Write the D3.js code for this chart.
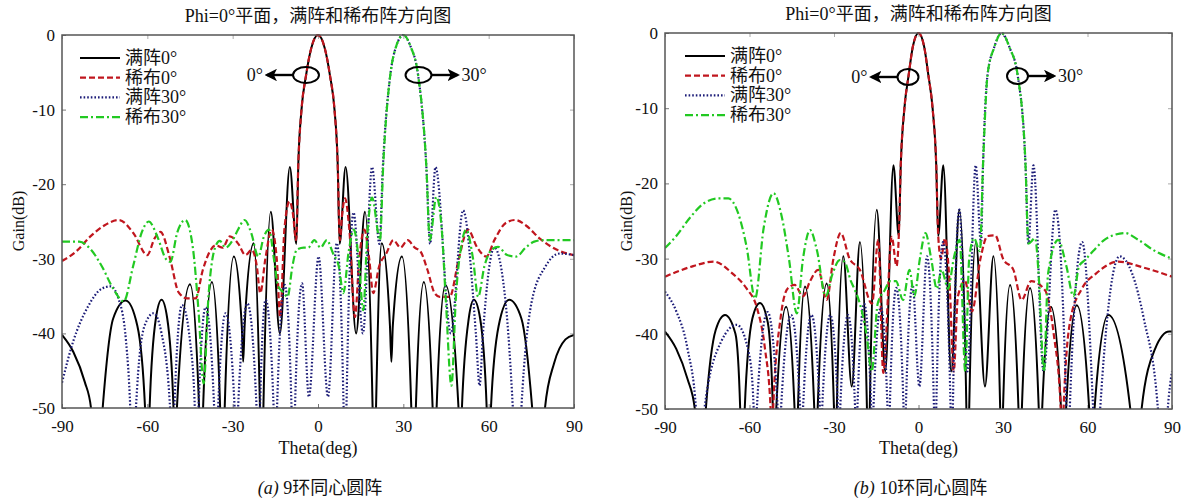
<!DOCTYPE html>
<html>
<head>
<meta charset="utf-8">
<script src="https://cdn.jsdelivr.net/npm/d3@7"></script>
<style>
body { margin: 0; background: #fff; }
text { font-family: "Liberation Serif", "Noto Sans CJK SC", serif; fill: #111; }
</style>
</head>
<body>
<svg id="chart" width="1185" height="503"></svg>
<script>
// ---- data: [theta(deg), gain(dB)] ----
var seriesNames = ["满阵0°", "稀布0°", "满阵30°", "稀布30°"];
var xTicks = [-90, -60, -30, 0, 30, 60, 90];
var yTicks = [0, -10, -20, -30, -40, -50];
var titleText = "Phi=0°平面，满阵和稀布阵方向图";
var captions = [["(a)", " 9环同心圆阵"], ["(b)", " 10环同心圆阵"]];

// (a) 9 rings
var fullA0 = [[-90,-40.2],[-86,-42.5],[-82,-46.5],[-79.8,-50],[-77.8,-62],[-75.7,-50],[-72,-38],[-67.6,-35.6],[-63.5,-39],[-60.8,-50],[-60,-62],[-59.2,-50],[-57,-38],[-55,-35.5],[-53,-38],[-50.8,-50],[-50.2,-62],[-49.6,-50],[-45,-33.4],[-41.8,-50],[-41.1,-62],[-40.4,-50],[-37.3,-33.1],[-34.4,-50],[-33.6,-62],[-32.8,-50],[-29.6,-29.7],[-26.8,-39],[-26.3,-43.8],[-25.8,-39],[-22.6,-27.9],[-20.4,-50],[-19.8,-62],[-19.2,-50],[-16.6,-23.7],[-13.4,-40],[-9.9,-17.7],[-7.6,-28],[-6.9,-17],[-5.8,-10],[-4.2,-5.4],[-2.4,-1.8],[0,0],[2.4,-1.8],[4.2,-5.4],[5.8,-10],[6.9,-17],[7.6,-28],[9.7,-17.7],[13.4,-40],[16.5,-23.7],[19.2,-50],[19.8,-62],[20.4,-50],[22.4,-27.9],[25.3,-39],[25.8,-43.8],[26.3,-39],[29.5,-29.7],[32.8,-50],[33.6,-62],[34.4,-50],[37.2,-33.1],[40.3,-50],[41,-62],[41.7,-50],[44.8,-33.5],[49.4,-50],[50,-62],[50.6,-50],[53,-38],[54.8,-35.5],[57,-38],[59.3,-50],[60,-62],[60.8,-50],[63.5,-39],[67.2,-35.5],[71.5,-38],[75.3,-50],[77.5,-62],[79.8,-50],[83,-44],[87,-40.8],[90,-40.2]];
var sparseA0 = [[-90,-30.3],[-85,-29],[-80,-27],[-75,-25.5],[-70,-24.8],[-65,-26.5],[-60,-29.5],[-57.5,-27.3],[-55.4,-26.4],[-52,-30],[-49,-34.5],[-46,-35.3],[-43,-35.3],[-40.5,-31.5],[-38,-29],[-36,-28.2],[-33.5,-28.5],[-31,-27],[-28,-28],[-25.5,-29.5],[-23.3,-28.8],[-21.5,-31],[-20.3,-34.6],[-18.5,-30],[-16.3,-26.1],[-14.5,-30],[-13.3,-37.8],[-11.8,-26],[-10,-22.3],[-8.8,-24],[-7.7,-27.5],[-6.9,-17],[-5.8,-10],[-4.2,-5.4],[-2.4,-1.8],[0,0],[2.4,-1.8],[4.2,-5.4],[5.8,-10],[6.9,-17],[7.7,-27.5],[8.5,-24],[9.5,-21.9],[11,-26],[13,-37.8],[14.5,-30],[16.3,-26.1],[18,-30],[19.4,-34.6],[21.5,-31],[24,-29.3],[26.5,-27.5],[29,-28.5],[31.5,-27.5],[34,-28.5],[36,-29],[38.5,-31.5],[41,-34.6],[42.8,-35.1],[46.3,-35.1],[49.5,-30],[52.7,-26.1],[56,-28.5],[59.2,-29.7],[62,-27.5],[66,-25.2],[69.3,-24.8],[73,-25.5],[78,-27.3],[84,-28.8],[90,-29.5]];
var fullA30 = [[-90,-46.6],[-86,-41],[-81,-36.5],[-76,-34],[-72.9,-33.7],[-70,-35.5],[-67.5,-41],[-66,-50],[-65,-62],[-64,-50],[-61,-39],[-57.8,-37.3],[-55,-40],[-52,-50],[-51.3,-62],[-50.5,-50],[-47.8,-36.2],[-45,-41],[-43.3,-50],[-42.7,-62],[-42,-50],[-39.5,-36.5],[-36.5,-50],[-35.8,-62],[-35.1,-50],[-32.5,-37.3],[-29.3,-50],[-28.7,-62],[-28.1,-50],[-24.8,-36],[-21.6,-50],[-21,-62],[-20.4,-50],[-18.4,-35.5],[-15.6,-50],[-15,-62],[-14.4,-50],[-11.7,-33.5],[-9.3,-50],[-8.7,-62],[-8.1,-50],[-5.6,-33.3],[-3.2,-48.5],[0.2,-29.7],[3.5,-48.5],[6.6,-27.9],[9,-50],[9.5,-62],[10,-50],[12.5,-23.8],[15.8,-40],[19,-17.7],[21.6,-28],[22.8,-17.7],[25.4,-5.4],[27.5,-1.5],[30,0],[32.5,-1.5],[35.2,-5.4],[38.1,-17.7],[39.4,-28],[41.3,-17.7],[46.7,-40],[51,-23.5],[55.5,-40],[56.8,-47],[58,-40],[62,-28.5],[66,-36],[68.5,-50],[70,-62],[71.5,-50],[75,-36],[80,-31],[85,-29.3],[90,-29.5]];
var sparseA30 = [[-90,-27.7],[-84,-27.7],[-80,-28.7],[-76,-31],[-72,-34],[-68.3,-35.7],[-65,-31],[-62,-26.5],[-59.5,-25],[-56.5,-27],[-53.5,-30],[-51.9,-30.4],[-49.5,-26.5],[-46.7,-24.8],[-44,-28.5],[-42,-37],[-40.2,-46.7],[-38.5,-35],[-36.1,-28.4],[-34.5,-27.6],[-32.5,-28.5],[-30,-27.5],[-28,-26],[-25.8,-24.8],[-23.5,-26.5],[-21,-29.7],[-19,-27],[-17.2,-26.1],[-15.5,-30],[-14,-33.7],[-12.2,-34.5],[-10.7,-35.1],[-9,-31],[-7.5,-28.8],[-5,-28.5],[-3.4,-28.5],[-1.3,-27.5],[0.9,-28.5],[3.1,-27.5],[5.3,-29.3],[7.3,-31],[8.9,-34.6],[10.8,-29],[12.6,-26.1],[14.3,-30],[15.9,-36.9],[17.3,-27],[19,-21.8],[21.8,-27.5],[22.9,-17.7],[25.4,-5.4],[27.5,-1.5],[30,0],[32.5,-1.5],[35.2,-5.4],[38.1,-17.7],[39.3,-27.5],[41.6,-21.7],[43.5,-26],[45,-36],[46.9,-47],[48.5,-35],[50.5,-28],[52.1,-26.1],[54.5,-30],[56.3,-35.1],[58.5,-31],[61,-28.8],[63.3,-28.4],[66.5,-29.5],[69.7,-29.7],[73,-28.5],[76,-27.7],[79,-27.5],[84,-27.5],[90,-27.5]];

// (b) 10 rings
var fullB0 = [[-90,-39.7],[-86,-42],[-82,-46],[-79.4,-50],[-77.5,-62],[-75.5,-50],[-72,-39.5],[-68.7,-37.5],[-65,-40],[-63.3,-50],[-62.5,-62],[-61.7,-50],[-59,-38],[-56.3,-35.9],[-53.5,-38.5],[-51.7,-50],[-51.1,-62],[-50.5,-50],[-47,-36.4],[-44,-50],[-43.4,-62],[-42.8,-50],[-40.3,-33.7],[-37,-50],[-36.4,-62],[-35.8,-50],[-32.6,-33.3],[-30,-50],[-29.5,-62],[-29,-50],[-26.7,-29.7],[-23.7,-47],[-20.8,-27.8],[-18.3,-50],[-17.8,-62],[-17.3,-50],[-14.8,-23.5],[-11.8,-45],[-8.9,-17.6],[-7,-27],[-6.3,-17.6],[-5,-10],[-3.5,-5.6],[-2,-1.8],[0,0],[2,-1.8],[3.5,-5.6],[5,-10],[6.3,-17.6],[7,-27],[8.8,-17.6],[11.6,-45],[14.5,-23.5],[17,-50],[17.5,-62],[18,-50],[20.4,-27.8],[23.6,-47],[26.6,-29.7],[29,-50],[29.5,-62],[30,-50],[32.5,-33.5],[35.5,-50],[36.1,-62],[36.7,-50],[39.6,-33.9],[42.7,-50],[43.3,-62],[43.9,-50],[47,-36.4],[50.6,-50],[51.3,-62],[52.4,-50],[56.2,-36.2],[60.6,-50],[61.5,-62],[62.5,-50],[67.4,-37.5],[75.2,-50],[77.2,-62],[79.2,-50],[84,-42],[89,-39.7],[90,-39.7]];
var sparseB0 = [[-90,-32.4],[-80,-31],[-72.8,-30.4],[-66,-32],[-61,-34],[-57.4,-36.5],[-54.5,-42],[-52.5,-50],[-52.1,-60],[-51.6,-50],[-49,-38],[-46.5,-34],[-44,-33.5],[-41,-35],[-38.5,-33],[-35.6,-31.5],[-32.6,-35.5],[-30.2,-30],[-27.6,-26.6],[-24.5,-30],[-20.8,-31.5],[-16.5,-36],[-14.3,-27.5],[-12.5,-45.2],[-9.5,-27.1],[-7.8,-31],[-7,-27],[-6.3,-17.6],[-5,-10],[-3.5,-5.6],[-2,-1.8],[0,0],[2,-1.8],[3.5,-5.6],[5,-10],[6.3,-17.6],[7,-27],[8,-30],[9.4,-27.3],[11,-33],[12.5,-45],[14,-35],[16.5,-33],[19,-37],[22,-30],[24.5,-27],[27.2,-26.9],[30,-30],[33.7,-31.5],[36.6,-35.5],[40,-33],[44.9,-34.2],[48,-40],[50.5,-50],[51,-60],[51.5,-50],[54,-38],[58,-34],[63,-32],[70.9,-30.4],[80,-31.2],[90,-32.4]];
var fullB30 = [[-90,-34.4],[-86,-37],[-82,-42],[-79,-50],[-77.6,-62],[-76,-50],[-70,-41],[-64.5,-38.8],[-60,-43],[-58.5,-50],[-58,-62],[-57.4,-50],[-53.6,-37.1],[-50,-50],[-49.4,-62],[-48.8,-50],[-45.2,-37.5],[-42,-50],[-41.5,-62],[-41,-50],[-38,-37.5],[-35,-50],[-34.6,-62],[-34.2,-50],[-31.3,-37.5],[-28.6,-50],[-28.2,-62],[-27.8,-50],[-25,-37.5],[-22.5,-50],[-22.1,-62],[-21.7,-50],[-19.3,-36],[-16.8,-50],[-16.4,-62],[-16,-50],[-13.4,-36.5],[-11,-50],[-10.6,-62],[-10.2,-50],[-7.9,-33.9],[-5.3,-50],[-4.9,-62],[-4.5,-50],[-2.1,-33.5],[0.3,-47],[3,-29.7],[5.5,-50],[5.9,-62],[6.3,-50],[8.7,-27.8],[11.4,-50],[11.8,-62],[12.2,-50],[14.5,-23.5],[17.4,-45],[20.3,-17.6],[22.2,-28],[22.9,-17.6],[24.5,-5.6],[26.8,-2],[29.5,0],[32.4,-2],[35.2,-5.6],[38,-17.6],[39,-28],[40.8,-17.6],[44.4,-45],[48.6,-23.5],[52.5,-50],[53.1,-62],[53.7,-50],[58.1,-27.8],[62,-50],[63.3,-62],[64.5,-50],[71.4,-29.7],[80,-38],[85,-50],[86.8,-62],[88.5,-50],[90,-45]];
var sparseB30 = [[-90,-28.6],[-86,-27],[-81,-24.5],[-76,-22.6],[-71,-22],[-67.5,-22],[-64,-24],[-61,-28.5],[-58,-35.3],[-55,-26],[-51.5,-21.3],[-48.5,-24.5],[-46,-30],[-43.2,-37.3],[-41,-30],[-38.5,-26.2],[-36,-29],[-33,-35],[-30.5,-32],[-28,-30.2],[-26.3,-30.4],[-24,-33],[-22.8,-34],[-20.9,-35.9],[-18.5,-40],[-16.6,-45],[-14.5,-36],[-12,-34.2],[-10,-33],[-8,-33],[-5.5,-35.5],[-3.2,-31.5],[-1.5,-35],[0.5,-30],[2.5,-26.6],[4.5,-30],[6.5,-34],[8.2,-31.5],[10.5,-34],[12.5,-30],[14.6,-27.5],[16.6,-45],[18,-30],[19.7,-27.3],[21.8,-29],[22.9,-17.6],[24.5,-5.6],[26.8,-2],[29.5,0],[32.4,-2],[35.2,-5.6],[38,-17.6],[39,-28],[41.4,-27.3],[42.8,-33],[44.5,-45],[46,-32],[49.6,-27.5],[52.5,-31],[55,-35],[57,-31],[59.1,-30.2],[62,-29],[66,-27.5],[70,-26.8],[73.3,-26.6],[78,-27.5],[84,-29],[90,-30]];

// ---- layout ----
var styles = [
  { color: "#000000", dash: null, width: 2 },
  { color: "#c0161e", dash: "6,3", width: 2.2 },
  { color: "#1c1c78", dash: "1.6,2", width: 2.2 },
  { color: "#22c922", dash: "8,3,2,3", width: 2.2 }
];

var panels = [
  { left: 62, right: 574, top: 35, bottom: 408, series: [fullA0, sparseA0, fullA30, sparseA30],
    caption: captions[0], yLabelX: 18, legendX: 80, e0: [306, 75, 13], e30: [418.5, 75, 13] },
  { left: 665, right: 1172, top: 33, bottom: 409, series: [fullB0, sparseB0, fullB30, sparseB30],
    caption: captions[1], yLabelX: 626, legendX: 685, e0: [908, 77, 10.5], e30: [1017.5, 76, 10.5] }
];

var svg = d3.select("#chart");

svg.append("defs").append("marker")
  .attr("id", "arrow")
  .attr("viewBox", "0 0 10 10")
  .attr("refX", 8).attr("refY", 5)
  .attr("markerWidth", 5.2).attr("markerHeight", 5.2)
  .attr("markerUnits", "strokeWidth")
  .attr("orient", "auto")
  .append("path").attr("d", "M0,0L10,5L0,10L2.5,5Z").attr("fill", "#000");

panels.forEach(function(p, pi) {
  var g = svg.append("g");
  var x = d3.scaleLinear().domain([-90, 90]).range([p.left, p.right]);
  var y = d3.scaleLinear().domain([-50, 0]).range([p.bottom, p.top]);
  var cx = (p.left + p.right) / 2;

  var clipId = "clip" + pi;
  g.append("clipPath").attr("id", clipId)
    .append("rect").attr("x", p.left).attr("y", p.top - 1)
    .attr("width", p.right - p.left).attr("height", p.bottom - p.top + 1);

  // axes with inward ticks
  g.append("g").attr("transform", "translate(0," + p.bottom + ")")
    .call(d3.axisBottom(x).tickValues(xTicks).tickSize(-4).tickPadding(12).tickFormat(function(d) { return String(d); }))
    .call(function(a) { a.select(".domain").remove(); a.selectAll("line").attr("stroke", "#777"); a.selectAll("text").style("font-size", "17px"); });
  g.append("g").attr("transform", "translate(" + p.left + ",0)")
    .call(d3.axisLeft(y).tickValues(yTicks).tickSize(-4).tickPadding(7).tickFormat(function(d) { return String(d); }))
    .call(function(a) { a.select(".domain").remove(); a.selectAll("line").attr("stroke", "#777"); a.selectAll("text").style("font-size", "17px"); });
  g.append("g").attr("transform", "translate(0," + p.top + ")")
    .call(d3.axisTop(x).tickValues(xTicks).tickSize(-4).tickFormat(""))
    .call(function(a) { a.select(".domain").remove(); a.selectAll("line").attr("stroke", "#aaa"); });
  g.append("g").attr("transform", "translate(" + p.right + ",0)")
    .call(d3.axisRight(y).tickValues(yTicks).tickSize(-4).tickFormat(""))
    .call(function(a) { a.select(".domain").remove(); a.selectAll("line").attr("stroke", "#aaa"); });

  // curves
  var line = d3.line()
    .x(function(d) { return x(d[0]); })
    .y(function(d) { return y(d[1]); })
    .curve(d3.curveMonotoneX);

  var curves = g.append("g").attr("clip-path", "url(#" + clipId + ")");
  p.series.forEach(function(s, si) {
    curves.append("path")
      .datum(s)
      .attr("d", line)
      .attr("fill", "none")
      .attr("stroke", styles[si].color)
      .attr("stroke-width", styles[si].width)
      .attr("stroke-dasharray", styles[si].dash);
  });

  // frame
  g.append("rect")
    .attr("x", p.left).attr("y", p.top)
    .attr("width", p.right - p.left).attr("height", p.bottom - p.top)
    .attr("fill", "none").attr("stroke", "#555").attr("stroke-width", 1.5);

  // legend
  var leg = g.append("g");
  seriesNames.forEach(function(name, i) {
    var ly = p.top + 23 + i * 19.7;
    leg.append("line")
      .attr("x1", p.legendX).attr("x2", p.legendX + 40)
      .attr("y1", ly).attr("y2", ly)
      .attr("stroke", styles[i].color)
      .attr("stroke-width", styles[i].width)
      .attr("stroke-dasharray", styles[i].dash);
    leg.append("text")
      .attr("x", p.legendX + 45).attr("y", ly + 6)
      .style("font-size", "18px")
      .text(name);
  });

  // beam annotations
  g.append("ellipse").attr("cx", p.e0[0]).attr("cy", p.e0[1]).attr("rx", p.e0[2]).attr("ry", 8)
    .attr("fill", "none").attr("stroke", "#000").attr("stroke-width", 2);
  g.append("line").attr("x1", p.e0[0] - p.e0[2]).attr("x2", p.e0[0] - p.e0[2] - 26)
    .attr("y1", p.e0[1]).attr("y2", p.e0[1])
    .attr("stroke", "#000").attr("stroke-width", 2.4).attr("marker-end", "url(#arrow)");
  g.append("text").attr("x", p.e0[0] - p.e0[2] - 30).attr("y", p.e0[1] + 6)
    .attr("text-anchor", "end").style("font-size", "18px").text("0°");

  g.append("ellipse").attr("cx", p.e30[0]).attr("cy", p.e30[1]).attr("rx", p.e30[2]).attr("ry", 8)
    .attr("fill", "none").attr("stroke", "#000").attr("stroke-width", 2);
  g.append("line").attr("x1", p.e30[0] + p.e30[2]).attr("x2", p.e30[0] + p.e30[2] + 26)
    .attr("y1", p.e30[1]).attr("y2", p.e30[1])
    .attr("stroke", "#000").attr("stroke-width", 2.4).attr("marker-end", "url(#arrow)");
  g.append("text").attr("x", p.e30[0] + p.e30[2] + 30).attr("y", p.e30[1] + 6)
    .style("font-size", "18px").text("30°");

  // titles and labels
  g.append("text").attr("x", cx).attr("y", p.top - 13)
    .attr("text-anchor", "middle").style("font-size", "18px").text(titleText);
  g.append("text").attr("x", cx).attr("y", 454)
    .attr("text-anchor", "middle").style("font-size", "18px").text("Theta(deg)");
  g.append("text")
    .attr("transform", "translate(" + (p.yLabelX + 6) + "," + 221 + ") rotate(-90)")
    .attr("text-anchor", "middle").style("font-size", "16px").text("Gain(dB)");
  var cap = g.append("text").attr("x", cx + 2).attr("y", 494)
    .attr("text-anchor", "middle").style("font-size", "18px");
  cap.append("tspan").style("font-style", "italic").text(p.caption[0]);
  cap.append("tspan").text(p.caption[1]);
});
</script>
</body>
</html>
